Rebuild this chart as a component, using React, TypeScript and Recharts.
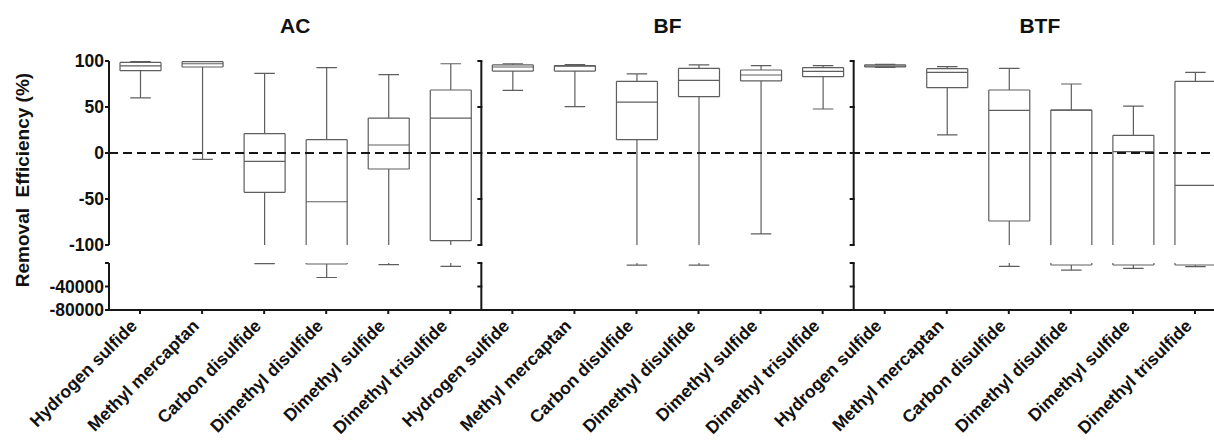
import React from 'react';
import { ComposedChart, Bar, XAxis, YAxis, ReferenceLine, ReferenceArea } from 'recharts';

// ---------- data ----------
const PANELS = ['AC', 'BF', 'BTF'];
const COMPOUNDS = [
  'Hydrogen sulfide',
  'Methyl mercaptan',
  'Carbon disulfide',
  'Dimethyl disulfide',
  'Dimethyl sulfide',
  'Dimethyl trisulfide',
];

// Removal efficiency (%) box statistics per compound
const AC_MIN = [60, -7, -1200, -24700, -2900, -5800];
const AC_Q1 = [89.5, 93.5, -42.7, -1700, -17.4, -95.3];
const AC_MEDIAN = [94.6, 97, -9, -53, 8.7, 38];
const AC_Q3 = [98.5, 99.3, 21, 14.5, 38, 68.5];
const AC_MAX = [99.6, 99.8, 86.6, 92.8, 85.1, 97];

const BF_MIN = [68, 50.4, -3500, -3500, -88, 47.8];
const BF_Q1 = [89, 89, 14.5, 61.2, 78.3, 83];
const BF_MEDIAN = [93.5, 94.5, 55.4, 79, 84.8, 88.8];
const BF_Q3 = [95.7, 95, 77.9, 92, 90.2, 92.8];
const BF_MAX = [97, 96, 85.9, 95.7, 94.9, 94.9];

const BTF_MIN = [93, 19.6, -5800, -12000, -9200, -6300];
const BTF_Q1 = [93.5, 71, -73.9, -3400, -3400, -3400];
const BTF_MEDIAN = [94.5, 87.7, 46.4, 46.7, 1.4, -35.1];
const BTF_Q3 = [95.8, 91.7, 68.5, 46.7, 19.2, 77.9];
const BTF_MAX = [96.3, 93.8, 92, 75, 51, 87.7];

const MINS = [AC_MIN, BF_MIN, BTF_MIN];
const Q1S = [AC_Q1, BF_Q1, BTF_Q1];
const MEDIANS = [AC_MEDIAN, BF_MEDIAN, BTF_MEDIAN];
const Q3S = [AC_Q3, BF_Q3, BTF_Q3];
const MAXS = [AC_MAX, BF_MAX, BTF_MAX];

const UPPER_TICKS = [-100, -50, 0, 50, 100];
const LOWER_TICKS = [-80000, -40000, 0];
const UPPER_DOMAIN: [number, number] = [-100, 100];
const LOWER_DOMAIN: [number, number] = [-80000, 0];

type Row = {
  key: string;
  panel: string;
  compound: string;
  min: number;
  q1: number;
  median: number;
  q3: number;
  max: number;
};

const rows: Row[] = [];
PANELS.forEach((p, pi) =>
  COMPOUNDS.forEach((c, ci) =>
    rows.push({
      key: `${p}|${c}`,
      panel: p,
      compound: c,
      min: MINS[pi][ci],
      q1: Q1S[pi][ci],
      median: MEDIANS[pi][ci],
      q3: Q3S[pi][ci],
      max: MAXS[pi][ci],
    })
  )
);

// ---------- styles ----------
const FONT = "'Liberation Sans', Arial, Helvetica, sans-serif";
const BOX_STROKE = '#5e5e5e';
const AXIS = '#161616';
const W = 1226;
const H = 441;

// ---------- shapes ----------
function bounds(y: number, height: number) {
  const top = Math.min(y, y + height);
  const bottom = Math.max(y, y + height);
  return { top, bottom };
}

function UpperBox(props: any) {
  const { x, y, width, height, payload } = props;
  if (!payload || !isFinite(y) || !isFinite(height)) return null;
  const [dMin, dMax] = UPPER_DOMAIN;
  const lo = Math.max(payload.min, dMin);
  const hi = Math.min(payload.max, dMax);
  if (hi <= lo) return null;
  const { top, bottom } = bounds(y, height);
  const py = (v: number) => top + ((hi - v) / (hi - lo)) * (bottom - top);
  const cx = x + width / 2;
  const capHalf = width * 0.25;
  const boxBottom = Math.max(payload.q1, dMin);
  const els: React.ReactNode[] = [];
  els.push(<line key="uw" x1={cx} x2={cx} y1={py(hi)} y2={py(payload.q3)} />);
  if (payload.max <= dMax) els.push(<line key="uc" x1={cx - capHalf} x2={cx + capHalf} y1={py(hi)} y2={py(hi)} />);
  els.push(<line key="bt" x1={x} x2={x + width} y1={py(payload.q3)} y2={py(payload.q3)} />);
  els.push(<line key="bl" x1={x} x2={x} y1={py(payload.q3)} y2={py(boxBottom)} />);
  els.push(<line key="br" x1={x + width} x2={x + width} y1={py(payload.q3)} y2={py(boxBottom)} />);
  if (payload.q1 >= dMin) els.push(<line key="bb" x1={x} x2={x + width} y1={py(payload.q1)} y2={py(payload.q1)} />);
  if (payload.median >= dMin && payload.median <= dMax)
    els.push(<line key="md" x1={x} x2={x + width} y1={py(payload.median)} y2={py(payload.median)} />);
  if (payload.q1 > dMin) {
    els.push(<line key="lw" x1={cx} x2={cx} y1={py(boxBottom)} y2={py(lo)} />);
    if (payload.min >= dMin) els.push(<line key="lc" x1={cx - capHalf} x2={cx + capHalf} y1={py(lo)} y2={py(lo)} />);
  }
  return (
    <g stroke={BOX_STROKE} strokeWidth={1.2} fill="none">
      {els}
    </g>
  );
}

function LowerBox(props: any) {
  const { x, y, width, height, payload } = props;
  if (!payload || payload.min >= UPPER_DOMAIN[0] || !isFinite(y) || !isFinite(height)) return null;
  const hi = LOWER_DOMAIN[1];
  const lo = Math.max(payload.min, LOWER_DOMAIN[0]);
  const { top, bottom } = bounds(y, height);
  const py = (v: number) => top + ((hi - v) / (hi - lo)) * (bottom - top);
  const cx = x + width / 2;
  const capHalf = width * 0.25;
  const els: React.ReactNode[] = [];
  const cut = UPPER_DOMAIN[0];
  let whiskerStart = hi;
  if (payload.q1 < cut) {
    els.push(<line key="bl" x1={x} x2={x} y1={py(hi)} y2={py(payload.q1)} />);
    els.push(<line key="br" x1={x + width} x2={x + width} y1={py(hi)} y2={py(payload.q1)} />);
    els.push(<line key="bb" x1={x} x2={x + width} y1={py(payload.q1)} y2={py(payload.q1)} />);
    if (payload.median < cut)
      els.push(<line key="md" x1={x} x2={x + width} y1={py(payload.median)} y2={py(payload.median)} />);
    whiskerStart = payload.q1;
  }
  els.push(<line key="lw" x1={cx} x2={cx} y1={py(whiskerStart)} y2={py(lo)} />);
  els.push(<line key="lc" x1={cx - capHalf} x2={cx + capHalf} y1={py(lo)} y2={py(lo)} />);
  return (
    <g stroke={BOX_STROKE} strokeWidth={1.2} fill="none">
      {els}
    </g>
  );
}

function makeSeparator(ticks: number[], domain: [number, number]) {
  return (props: any) => {
    const { x, y, height } = props;
    if (!isFinite(x) || !isFinite(y)) return null;
    const { top, bottom } = bounds(y, height);
    const [d0, d1] = domain;
    return (
      <g stroke={AXIS} strokeWidth={2} fill="none">
        <line x1={x} x2={x} y1={top} y2={bottom} />
        {ticks.map((t) => {
          const ty = top + ((d1 - t) / (d1 - d0)) * (bottom - top);
          return <line key={t} x1={x - 4} x2={x + 1} y1={ty} y2={ty} />;
        })}
      </g>
    );
  };
}

const UpperSep = makeSeparator(UPPER_TICKS, UPPER_DOMAIN);
const LowerSep = makeSeparator(LOWER_TICKS, LOWER_DOMAIN);
const NoShape = () => null;

function XTick(props: any) {
  const { x, y, payload } = props;
  const label = String(payload.value).split('|')[1];
  return (
    <g transform={`translate(${x - 2},${y + 11})`}>
      <text
        x={0}
        y={0}
        textAnchor="end"
        transform="rotate(-45)"
        fontFamily={FONT}
        fontWeight="bold"
        fontSize={17.5}
        fill="#111"
      >
        {label}
      </text>
    </g>
  );
}

const yTickStyle = { fontFamily: FONT, fontWeight: 'bold', fontSize: 17.5, fill: '#111' } as any;

export default function App() {
  const firstKey = (p: string) => `${p}|${COMPOUNDS[0]}`;
  const lastKey = (p: string) => `${p}|${COMPOUNDS[COMPOUNDS.length - 1]}`;
  return (
    <div
      style={{
        position: 'absolute',
        left: 0,
        top: 0,
        width: 1214,
        height: 441,
        overflow: 'hidden',
        background: '#fff',
      }}
    >
      {/* upper segment: -100 .. 100 */}
      <div style={{ position: 'absolute', left: 0, top: 0 }}>
        <ComposedChart width={W} height={H} data={rows} margin={{ top: 61, right: 0, bottom: H - 245, left: 0 }}>
          <XAxis dataKey="key" type="category" hide />
          <YAxis
            type="number"
            domain={UPPER_DOMAIN}
            ticks={UPPER_TICKS}
            allowDataOverflow
            width={109}
            tick={yTickStyle}
            tickSize={4}
            tickMargin={1}
            axisLine={{ stroke: AXIS, strokeWidth: 2 }}
            tickLine={{ stroke: AXIS, strokeWidth: 2 }}
            interval={0}
          />
          <ReferenceLine y={0} stroke={AXIS} strokeWidth={2} strokeDasharray="9 5" />
          {PANELS.map((p, i) => (
            <ReferenceArea
              key={p}
              x1={firstKey(p)}
              x2={lastKey(p)}
              y1={UPPER_DOMAIN[0]}
              y2={UPPER_DOMAIN[1]}
              ifOverflow="visible"
              shape={i === 0 ? NoShape : UpperSep}
              label={{
                value: p,
                position: 'top',
                offset: 28,
                fontFamily: FONT,
                fontWeight: 'bold',
                fontSize: 21,
                fill: '#111',
              }}
            />
          ))}
          <Bar
            dataKey={(d: Row) => [Math.max(d.min, UPPER_DOMAIN[0]), Math.min(d.max, UPPER_DOMAIN[1])]}
            barSize={41}
            shape={UpperBox}
            isAnimationActive={false}
          />
        </ComposedChart>
      </div>

      {/* lower segment: -80000 .. 0 */}
      <div style={{ position: 'absolute', left: 0, top: 0 }}>
        <ComposedChart width={W} height={H} data={rows} margin={{ top: 263, right: 0, bottom: H - 310 - 100, left: 0 }}>
          <XAxis
            dataKey="key"
            type="category"
            height={100}
            interval={0}
            tick={<XTick />}
            tickSize={4}
            axisLine={{ stroke: AXIS, strokeWidth: 2 }}
            tickLine={{ stroke: AXIS, strokeWidth: 2 }}
          />
          <YAxis
            type="number"
            domain={LOWER_DOMAIN}
            ticks={LOWER_TICKS}
            allowDataOverflow
            width={109}
            tick={yTickStyle}
            tickFormatter={(v: number) => (v === 0 ? '' : String(v))}
            tickSize={4}
            tickMargin={1}
            axisLine={{ stroke: AXIS, strokeWidth: 2 }}
            tickLine={{ stroke: AXIS, strokeWidth: 2 }}
            interval={0}
          />
          {PANELS.slice(1).map((p) => (
            <ReferenceArea
              key={p}
              x1={firstKey(p)}
              x2={lastKey(p)}
              y1={LOWER_DOMAIN[0]}
              y2={LOWER_DOMAIN[1]}
              ifOverflow="visible"
              shape={LowerSep}
            />
          ))}
          <Bar
            dataKey={(d: Row) => (d.min < UPPER_DOMAIN[0] ? [Math.max(d.min, LOWER_DOMAIN[0]), LOWER_DOMAIN[1]] : null)}
            barSize={41}
            shape={LowerBox}
            isAnimationActive={false}
          />
        </ComposedChart>
      </div>

      {/* y-axis title */}
      <svg
        width={60}
        height={441}
        style={{ position: 'absolute', left: 0, top: 0, pointerEvents: 'none' }}
      >
        <text
          x={22}
          y={180}
          transform="rotate(-90 22 180)"
          textAnchor="middle"
          dominantBaseline="central"
          fontFamily={FONT}
          fontWeight="bold"
          fontSize={19}
          fill="#111"
          style={{ whiteSpace: 'pre' }}
        >
          {'Removal  Efficiency (%)'}
        </text>
      </svg>
    </div>
  );
}
